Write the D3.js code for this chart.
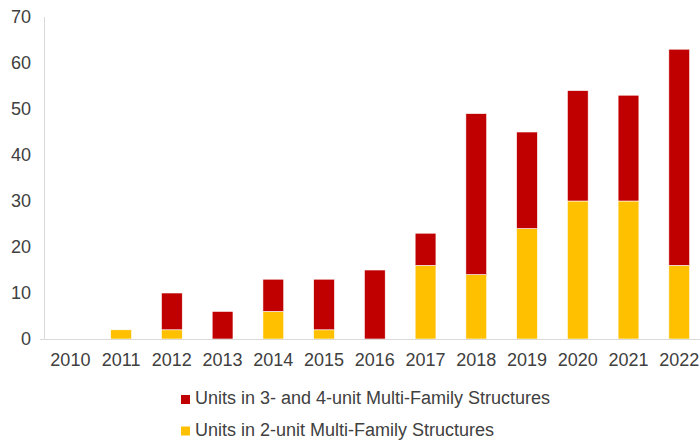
<!DOCTYPE html>
<html><head><meta charset="utf-8">
<script src="https://cdn.jsdelivr.net/npm/d3@7"></script>
<style>body{margin:0;background:#fff}svg{display:block}</style>
</head><body>
<svg id="c" width="700" height="442"></svg>
<script>
const years = ["2010","2011","2012","2013","2014","2015","2016","2017","2018","2019","2020","2021","2022"];
const twoUnit = [0,2,2,0,6,2,0,16,14,24,30,30,16];
const threeFourUnit = [0,0,8,6,7,11,15,7,35,21,24,23,47];
const yTicks = [0,10,20,30,40,50,60,70];
const seriesNames = ["Units in 3- and 4-unit Multi-Family Structures","Units in 2-unit Multi-Family Structures"];
const colors = {two:"#FFC000", three:"#C00000"};

const svg = d3.select("#c");
const font = "'Liberation Sans', Arial, sans-serif";
const x = d3.scaleBand().domain(years).range([45, 704.6]).paddingInner(0.59).paddingOuter(0.295);
const y = d3.scaleLinear().domain([0,70]).range([339,17]);

svg.append("line").attr("x1",44.5).attr("x2",44.5).attr("y1",y(70)).attr("y2",y(0)).attr("stroke","#d9d9d9").attr("stroke-width",1);

const rows = years.map((yr,i)=>({year:yr, two:twoUnit[i], three:threeFourUnit[i]}));
const stack = d3.stack().keys(["two","three"])(rows);
svg.append("g").selectAll("g").data(stack).join("g")
  .attr("fill", d=>colors[d.key])
  .selectAll("rect").data(d=>d.filter(p=>p[1]-p[0]>0)).join("rect")
  .attr("x", d=>x(d.data.year))
  .attr("width", x.bandwidth())
  .attr("y", d=>y(d[1]))
  .attr("height", d=>y(d[0])-y(d[1]))
  .attr("stroke","#fff").attr("stroke-width",0.6);

svg.append("line").attr("x1",40).attr("x2",700).attr("y1",339.5).attr("y2",339.5).attr("stroke","#d9d9d9").attr("stroke-width",1);

const ya = svg.append("g").attr("transform","translate(31,0)")
  .call(d3.axisLeft(y).tickValues(yTicks).tickSize(0).tickPadding(0));
ya.select(".domain").remove();
ya.selectAll("text").attr("font-family",font).attr("font-size",18).attr("fill","#404040");

const xa = svg.append("g").attr("transform","translate(0,353)")
  .call(d3.axisBottom(x).tickSize(0).tickPadding(0));
xa.select(".domain").remove();
xa.selectAll("text").attr("font-family",font).attr("font-size",18).attr("fill","#404040").attr("dy","0.71em");

const leg = svg.append("g");
const legColors = [colors.three, colors.two];
seriesNames.forEach((n,i)=>{
  const top = 395 + i*31.5;
  leg.append("rect").attr("x",181).attr("y",top).attr("width",9).attr("height",9).attr("fill",legColors[i]);
  leg.append("text").attr("x",195).attr("y",top+9.3).attr("font-family",font).attr("font-size",18).attr("fill","#404040").text(n);
});
</script>
</body></html>
